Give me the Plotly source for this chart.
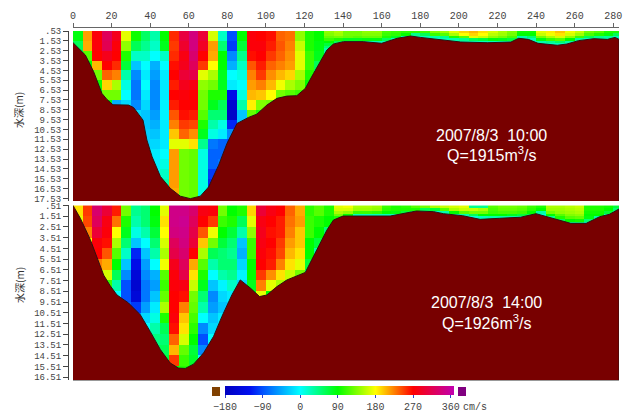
import numpy as np
import plotly.graph_objects as go

W, H = 629, 418
MONO = "Liberation Mono"

x_ticks = list(range(0, 281, 20))
top_depth_ticks = [0.53 + i for i in range(18)]
bottom_depth_ticks = [0.51 + i for i in range(17)]
top_depth_labels = [f"{v:.2f}".lstrip("0") for v in top_depth_ticks]
bottom_depth_labels = [f"{v:.2f}".lstrip("0") for v in bottom_depth_ticks]
cbar_ticks = [-180, -90, 0, 90, 180, 270, 360]

# Velocity (cm/s) by 5 m column, 1 m depth rows, left deep part of the section
top_deep = [
    [85, 60, 50],
    [215, 210, 120, 90, 80],
    [275, 275, 270, 205, 130, 95, 70],
    [320, 315, 285, 270, 235, 195, 130, 85, 50],
    [285, 275, 270, 255, 225, 150, 130, -40, 80, 60],
    [170, 140, 100, 70, 30, 10, 0, -20, -60, -50, -40],
    [95, 60, 20, -30, -60, -70, -70, -60, -20, 10, 10],
    [55, 40, 20, 0, -10, 0, -10, -20, -30, -30, -25, -25, -20],
    [30, 20, 0, -40, -50, -60, -60, -60, -50, -40, -30, -20, -10, -10, -5],
    [90, 80, 20, 0, -10, -10, -10, -5, -5, -10, -10, -10, 0, 10, 20, 30],
    [255, 250, 255, 265, 270, 260, 270, 260, 240, 225, 200, 170, 215, 215, 215, 215, 210],
    [305, 295, 280, 285, 300, 285, 275, 270, 265, 250, 235, 170, 130, 130, 130, 130, 130, 130],
    [340, 340, 330, 320, 310, 280, 270, 270, 260, 245, 220, 190, 125, 125, 125, 125, 125, 125],
    [300, 290, 270, 250, 170, 140, 130, 130, 120, 100, 80, 40, 10, 10, 10, 10, 10],
    [165, 215, 210, 180, 150, 130, 100, 80, 50, 30, 10, -70, -80, -80, -100, -110],
    [20, 50, 90, 90, 80, 80, 100, 60, 50, 10, -10, -80, -80, -70],
    [-90, -100, -60, -40, 0, -10, -130, -160, -170, -110, -60, -90],
    [90, 70, 40, 20, 10, 0, 10, 30, -30],
    [275, 275, 265, 240, 225, 215, 205, 185, 125],
    [270, 275, 270, 260, 250, 225, 200, 135, 100],
    [265, 260, 250, 235, 220, 205, 180, 130],
    [235, 240, 235, 225, 205, 175, 130],
    [230, 225, 220, 215, 195, 150, 120],
    [140, 160, 170, 170, 150, 135, 110],
    [100, 100, 110, 110, 100, 90],
    [90, 85, 80, 60, 40],
]
bottom_deep = [
    [190, 170, 140],
    [250, 245, 225, 180, 150, 120],
    [330, 320, 300, 275, 270, 225, 190, 150, 120, 90],
    [300, 280, 275, 265, 240, 210, 165, 110, 70, 30, -10, -100],
    [260, 230, 180, 150, 120, 90, 60, 30, 0, -20],
    [130, 100, 80, 50, 20, -30, -60, -90, -90, -80],
    [40, 30, 10, -30, -110, -130, -150, -160, -150, -100, -60, -30],
    [50, 50, 30, 0, -30, -50, -60, -70, -70, -50, -20, 0, 20],
    [90, 85, 70, 50, 30, 0, -40, -50, -30, -10, 10, 30, 45, 60],
    [170, 190, 180, 165, 150, 175, 120, 110, 125, 150, 100, 60, 50, 60, 70],
    [345, 345, 340, 320, 310, 285, 275, 275, 270, 270, 275, 265, 235, 205, 250, 90],
    [345, 350, 345, 340, 330, 320, 310, 280, 265, 225, 200, 190, 165, 125, 110, 100],
    [330, 320, 310, 300, 270, 210, 190, 160, 130, 125, 115, 105, 90, 70, 75, 90],
    [280, 270, 240, 200, 150, 120, 100, 80, 50, 30, 0, -60, -90, -60, 0],
    [275, 250, 175, 130, 60, 30, 0, -30, -60, -50, -30, -20, 0],
    [130, 110, 90, 70, 50, 50, 30, -5, -20, -30, -10],
    [90, 100, 70, 50, 40, 50, 40, 20, -10, -30],
    [100, 60, 30, -30, -40, -20, -5, -20],
    [195, 170, 140, 110, 110, 90, 90, 80],
    [300, 280, 285, 280, 275, 270, 250, 225, 170],
    [280, 270, 265, 270, 265, 260, 220, 170, 90],
    [270, 260, 260, 250, 245, 225, 190, 150, 100],
    [235, 230, 225, 215, 205, 190, 160, 120],
    [210, 215, 200, 200, 190, 170, 130, 110],
    [105, 110, 110, 90, 90, 70, 40],
    [120, 100, 90, 70, 30, 10],
    [100, 90, 50, 30, 10],
]

# Shallow right part: 0.25 m rows
top_shallow = [
    [140, 135, 125, 110, 90, 70, 50, 30],
    [150, 145, 130, 100, 60, 25, 20, 20],
    [130, 130, 125, 80, 25, 20, 20, 20],
    [130, 130, 120, 80, 25, 20, 20, 20],
    [140, 135, 125, 85, 25, 20, 20, 20],
    [140, 135, 125, 85, 25, 20, 20, 20],
    [115, 110, 100, 60, 25, 20, 20, 20],
    [110, 105, 80, 25, 20, 20, 20, 20],
    [105, 90, 25, 20, 20, 20, 20, 20],
    [105, 40, 25, 20, 20, 20, 20, 20],
    [110, 60, 25, 20, 20, 20, 20, 20],
    [135, 110, 30, 20, 20, 20, 20, 20],
    [145, 120, 40, 25, 20, 20, 20, 20],
    [170, 150, 100, 30, 25, 20, 20, 20],
    [195, 180, 120, 40, 25, 20, 20, 20],
    [205, 195, 170, 60, 25, 20, 20, 20],
    [190, 180, 160, 70, 25, 20, 20, 20],
    [165, 155, 140, 85, 25, 20, 20, 20],
    [150, 145, 130, 80, 25, 20, 20, 20],
    [135, 130, 115, 70, 25, 20, 20, 20],
    [95, 90, 30, 20, 20, 20, 20, 20],
    [95, 90, 50, 25, 20, 20, 20, 20],
    [170, 160, 130, 85, 30, 20, 20, 20],
    [185, 175, 150, 110, 40, 25, 20, 20],
    [200, 190, 165, 120, 55, 25, 20, 20],
    [175, 165, 140, 90, 30, 20, 20, 20],
    [160, 145, 110, 35, 20, 20, 20, 20],
    [130, 115, 60, 25, 20, 20, 20, 20],
    [120, 100, 40, 25, 20, 20, 20, 20],
    [100, 85, 35, 25, 20, 20, 20, 20],
    [100, 60, 25, 20, 20, 20, 20, 20],
]
bottom_shallow = [
    [170, 165, 150, 130, 100, 80, 60, 40],
    [175, 165, 140, 90, 30, 20, 15, 10],
    [150, 145, 110, 25, 15, 15, 15, 15],
    [150, 145, 110, 25, 15, 15, 15, 15],
    [145, 140, 105, 25, 15, 15, 15, 15],
    [110, 105, 90, 25, 15, 15, 15, 15],
    [100, 100, 85, 25, 15, 15, 15, 15],
    [105, 100, 70, 20, 15, 15, 15, 15],
    [120, 100, 30, 15, 15, 15, 15, 15],
    [130, 60, 15, 15, 15, 15, 15, 15],
    [150, 70, 15, 15, 15, 15, 15, 15],
    [160, 120, 30, 15, 15, 15, 15, 15],
    [165, 150, 90, 25, 15, 15, 15, 15],
    [170, 160, 120, 30, 15, 15, 15, 15],
    [40, 160, 130, 60, 15, 15, 15, 15],
    [40, 150, 130, 90, 25, 15, 15, 15],
    [120, 115, 110, 90, 30, 15, 15, 15],
    [130, 125, 115, 90, 30, 15, 15, 15],
    [130, 125, 115, 80, 30, 15, 15, 15],
    [125, 120, 110, 70, 25, 15, 15, 15],
    [110, 105, 90, 60, 25, 15, 15, 15],
    [100, 90, 30, 15, 15, 15, 15, 15],
    [150, 145, 130, 90, 40, 15, 15, 15],
    [150, 145, 140, 120, 100, 60, 25, 15],
    [155, 150, 145, 135, 120, 90, 40, 20],
    [160, 155, 150, 140, 125, 95, 45, 20],
    [100, 100, 95, 90, 85, 50, 20, 15],
    [100, 100, 95, 90, 30, 15, 15, 15],
    [95, 90, 70, 25, 15, 15, 15, 15],
    [70, 50, 20, 15, 15, 15, 15, 15],
]

# River bed profile: distance (m), depth (m)
top_bed_x = [0, 0.3, 6.4, 10.7, 15, 17.6, 20.7, 28.8, 31.4, 36.3, 38.3, 41, 45.3, 50.4, 55.6, 60.8, 66, 70.3,
             75.5, 79.8, 85, 91, 95.3, 100.5, 105.7, 110.9, 116, 120.4, 124.7, 128, 131.6, 135, 140.2, 150.4,
             160, 168, 175, 180, 194, 201, 215, 227, 231, 236, 241, 251, 256, 262, 270, 277, 281, 283]
top_bed_y = [1.7, 1.78, 2.97, 4.66, 6.87, 7.48, 8.02, 8.05, 8.3, 9.58, 11.6, 13.3, 15.3, 16.5, 17.3, 17.55, 17.3, 16.36,
             14.15, 11.95, 9.92, 9.3, 8.97, 8.05, 7.37, 7.14, 7.1, 6.36, 4.83, 3.64, 2.46, 1.85, 1.61, 1.61,
             1.78, 1.27, 1.04, 1.18, 1.45, 1.65, 1.72, 1.65, 1.27, 1.38, 1.78, 1.98, 1.85, 1.51, 1.31, 1.38, 1.18, 1.38]
bottom_bed_x = [0, 0.3, 3.8, 9, 12.4, 15.9, 19.3, 22.8, 28.8, 34.9, 40, 45.3, 50.4, 54.7, 58.2, 62.5, 67.7, 72.9,
                77.2, 82.4, 86.7, 91.9, 96.7, 100.5, 105.7, 110.9, 120.4, 123.8, 128, 131.6, 135, 140, 164.4,
                178, 187, 192, 202, 211, 221, 232, 240, 247, 258, 266, 273, 278, 283]
bottom_bed_y = [0.5, 0.6, 1.7, 3.7, 5.4, 7, 8, 8.85, 9.6, 10.7, 12.25, 13.95, 15.2, 15.67, 15.7, 15.3, 14.25, 12.7,
                10.85, 8.83, 7.45, 8.2, 9, 8.85, 8.07, 7.45, 6.75, 5.57, 4.04, 2.8, 1.86, 1.49, 1.49,
                1.02, 1.08, 1.27, 1.46, 1.8, 1.7, 1.6, 1.27, 1.64, 2.17, 2.17, 1.55, 1.33, 0.83]

COLORSCALE_VALUES = [-180, -120, -90, 0, 90, 180, 270, 368]
COLORSCALE_COLORS = ["#0000c0", "#0010f0", "#0050ff", "#00ffff", "#00ff00", "#ffff00", "#ff0000", "#c000b0"]
ZMIN, ZMAX = -180, 368
colorscale = [[(v - ZMIN) / (ZMAX - ZMIN), c] for v, c in zip(COLORSCALE_VALUES, COLORSCALE_COLORS)]
BED = "#780000"


def build_grid(deep, shallow, start, n_rows):
    rows = []
    for col in deep:
        c = list(np.repeat(col, 4))
        rows.append(c + [c[-1]] * (n_rows - len(c)))
    for col in shallow:
        rows.append(list(col) + [col[-1]] * (n_rows - len(col)))
    z = np.array(rows, dtype=float).T
    x_edges = [5 * i for i in range(z.shape[1] + 1)]
    y_edges = [start + 0.25 * i for i in range(n_rows + 1)]
    return x_edges, y_edges, z


def px_x(v):
    return v / W


def px_y(v):
    return 1 - v / H


fig = go.Figure()

tx, ty, tz = build_grid(top_deep, top_shallow, 0.53, 72)
bx, by, bz = build_grid(bottom_deep, bottom_shallow, 0.51, 68)

fig.add_trace(go.Heatmap(
    x=tx, y=ty, z=tz, zmin=ZMIN, zmax=ZMAX, colorscale=colorscale, xaxis="x", yaxis="y",
    hoverongaps=False,
    colorbar=dict(
        orientation="h", x=px_x(225), xanchor="left", y=px_y(413), yanchor="bottom",
        len=229, lenmode="pixels", thickness=9, thicknessmode="pixels", xpad=0, ypad=0,
        outlinewidth=0, tickvals=cbar_ticks, ticks="outside", ticklen=3, tickwidth=1, tickcolor="#3040d0",
        tickfont=dict(family=MONO, size=10, color="#444444"),
    ),
))
fig.add_trace(go.Heatmap(
    x=bx, y=by, z=bz, zmin=ZMIN, zmax=ZMAX, colorscale=colorscale, showscale=False, xaxis="x2", yaxis="y2",
))

for bed_x, bed_y, xa, ya, floor in [
    (top_bed_x, top_bed_y, "x", "y", 17.9),
    (bottom_bed_x, bottom_bed_y, "x2", "y2", 16.9),
]:
    fig.add_trace(go.Scatter(
        x=bed_x + [bed_x[-1], bed_x[0]], y=bed_y + [floor, floor], mode="lines", fill="toself",
        fillcolor=BED, line=dict(color="#301010", width=1), xaxis=xa, yaxis=ya, hoverinfo="skip", showlegend=False,
    ))

y_common = dict(
    showgrid=False, zeroline=False, showline=True, linecolor="#444444", linewidth=1, ticks="outside", ticklen=5,
    tickcolor="#444444", tickfont=dict(family=MONO, size=9, color="#444444"), anchor="free",
    position=px_x(68), tickmode="array",
)
fig.update_layout(
    width=W, height=H, autosize=False, margin=dict(l=0, r=0, t=0, b=0, autoexpand=False), paper_bgcolor="white",
    plot_bgcolor="white", showlegend=False,
    xaxis=dict(
        domain=[px_x(73), px_x(619)], range=[0, 283], side="top", anchor="free", position=px_y(27),
        tickvals=x_ticks, showgrid=False, zeroline=False, showline=True, linecolor="#666666", linewidth=1,
        ticks="outside", ticklen=4, tickcolor="#666666", tickfont=dict(family=MONO, size=10, color="#444444"),
    ),
    xaxis2=dict(
        domain=[px_x(73), px_x(619)], range=[0, 283], anchor="y2", showticklabels=False, ticks="",
        showgrid=False, zeroline=False, showline=True, linecolor="#999999", linewidth=1,
    ),
    yaxis=dict(domain=[px_y(201), px_y(31)], range=[17.79, 0.53], tickvals=top_depth_ticks,
               ticktext=top_depth_labels, **y_common),
    yaxis2=dict(domain=[px_y(380), px_y(205)], range=[16.78, 0.46], tickvals=bottom_depth_ticks,
                ticktext=bottom_depth_labels, **y_common),
    shapes=[
        dict(type="rect", xref="paper", yref="paper", x0=px_x(212), x1=px_x(220), y0=px_y(396), y1=px_y(387),
             fillcolor="#804000", line=dict(width=0)),
        dict(type="rect", xref="paper", yref="paper", x0=px_x(458), x1=px_x(466), y0=px_y(396), y1=px_y(387),
             fillcolor="#800080", line=dict(width=0)),
    ],
)


def note(text, x, y, size=16, color="white", family="Liberation Sans", angle=0, anchor="center"):
    fig.add_annotation(text=text, xref="paper", yref="paper", x=px_x(x), y=px_y(y), showarrow=False,
                       xanchor=anchor, yanchor="middle", textangle=angle,
                       font=dict(size=size, color=color, family=family))


note("2007/8/3  10:00".replace("  ", "&nbsp;&nbsp;"), 491, 136)
note("Q=1915m<sup>3</sup>/s", 491, 154)
note("2007/8/3  14:00".replace("  ", "&nbsp;&nbsp;"), 486, 302)
note("Q=1926m<sup>3</sup>/s", 486, 322)
note("水深(m)", 19, 110, size=10, color="#333333", family="Noto Sans CJK JP", angle=-90)
note("水深(m)", 19, 285, size=10, color="#333333", family="Noto Sans CJK JP", angle=-90)
note("cm/s", 461, 407, size=10, color="#444444", family=MONO, anchor="left")

fig.write_html(
    "out.html",
    config={"displayModeBar": False},
    post_script="document.body.style.margin='0';document.documentElement.style.overflow='hidden';",
)
